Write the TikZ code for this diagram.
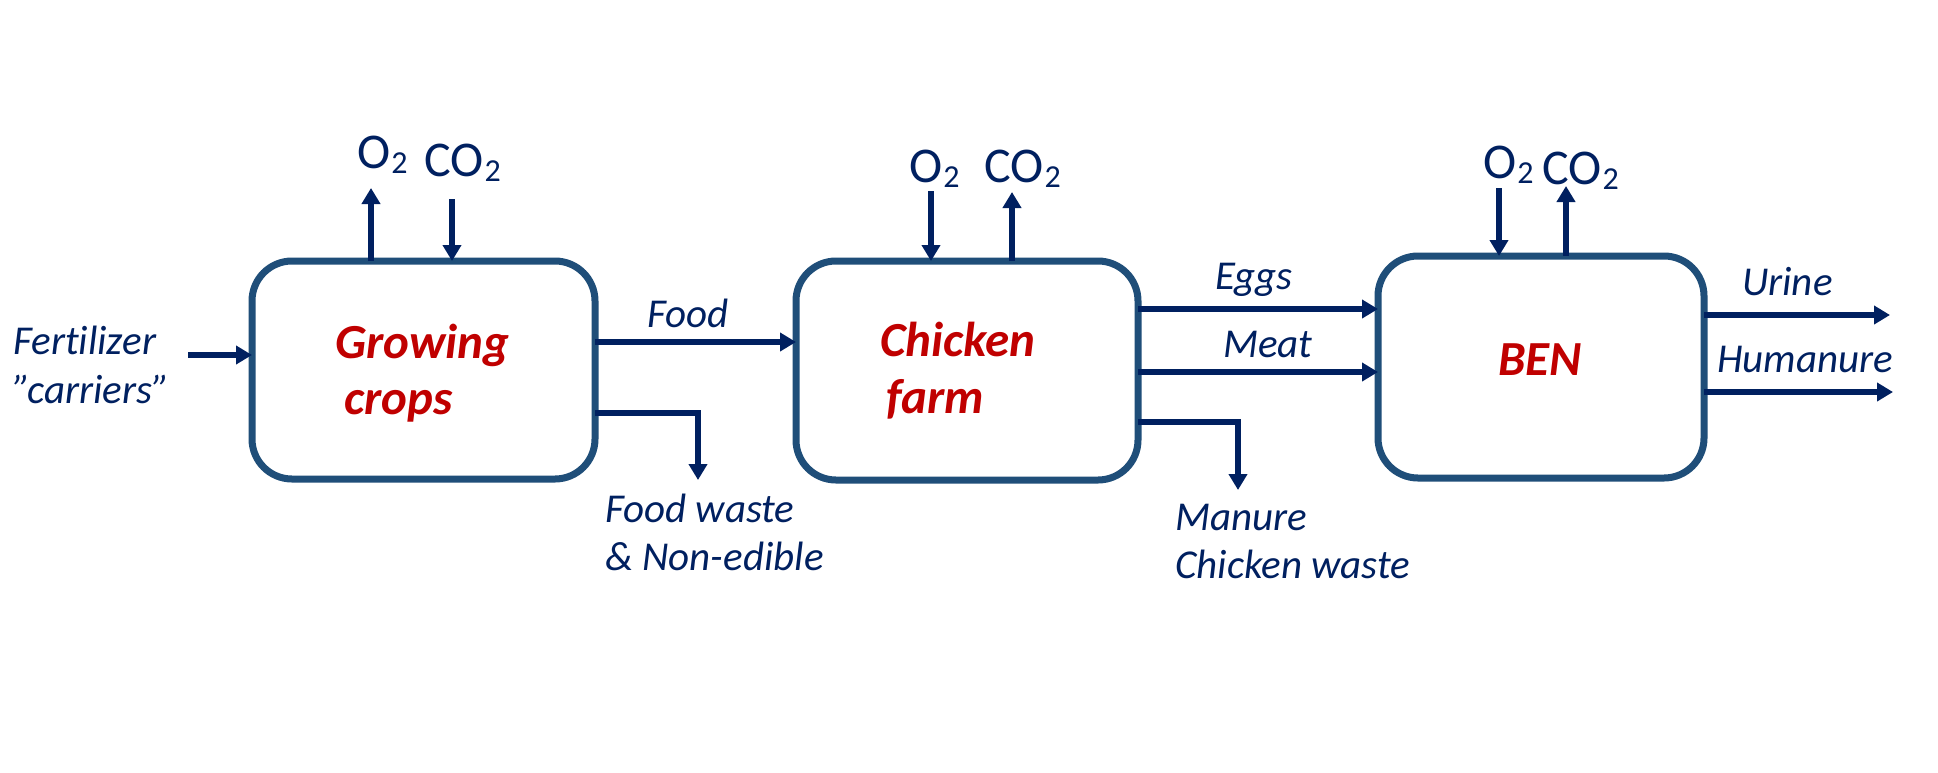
\documentclass[tikz,border=0pt]{standalone}
\usepackage{fontspec}
\setmainfont{Carlito}[Ligatures=NoCommon]
\usetikzlibrary{arrows.meta}
\definecolor{navy}{HTML}{002060}
\definecolor{boxblue}{HTML}{1F4E79}
\definecolor{labred}{HTML}{C00000}
\newcommand\gsub[1]{\kern1pt\raisebox{-5pt}{\fontsize{32}{34}\selectfont #1}}
\begin{document}
\begin{tikzpicture}[x=1pt,y=-1pt,
  proc/.style={draw=boxblue, line width=7pt, rounded corners=40pt, fill=white, inner sep=0pt, outer sep=0pt},
  flow/.style={draw=navy, line width=6pt, -{Triangle[width=18pt,length=16pt]}},
  lbl/.style={text=navy, font=\fontsize{41}{47}\selectfont\itshape, inner sep=0pt, anchor=base west},
  gas/.style={text=navy, font=\fontsize{50}{52}\selectfont, inner sep=0pt, anchor=base west},
  plab/.style={text=labred, font=\fontsize{49}{56}\selectfont\bfseries\itshape, inner sep=0pt, anchor=base west}]
\useasboundingbox[fill=white] (0,0) rectangle (1938,772);

% process boxes
\node[proc, minimum width=343pt, minimum height=218pt] (gc) at (423.5,370) {};
\node[proc, minimum width=342pt, minimum height=219pt] (cf) at (967,370.5) {};
\node[proc, minimum width=326pt, minimum height=222pt] (ben) at (1541,367) {};

% box labels
\node[plab] (gcl1) at (335,358) {Growing};
\node[plab] (gcl2) at (344,414) {crops};
\node[plab] (cfl1) at (880,356) {Chicken};
\node[plab] (cfl2) at (886,413) {farm};
\node[plab] (benl) at (1498,375) {BEN};

% gas labels
\node[gas] (gO2l) at (357,168) {O\gsub{2}};
\node[gas] (gCO2l) at (424,176) {CO\gsub{2}};
\node[gas] (cO2l) at (909,182) {O\gsub{2}};
\node[gas] (cCO2l) at (984,182) {CO\gsub{2}};
\node[gas] (bO2l) at (1483,178) {O\gsub{2}};
\node[gas] (bCO2l) at (1542,184) {CO\gsub{2}};

% gas arrows
\coordinate (gO2) at (371,188);
\coordinate (gCO2) at (452,199);
\coordinate (cO2) at (931,191);
\coordinate (cCO2) at (1012,192);
\coordinate (bO2) at (1499,188);
\coordinate (bCO2) at (1566,186);
\draw[flow] (gO2 |- gc.north) -- (gO2);
\draw[flow] (gCO2) -- (gCO2 |- gc.north);
\draw[flow] (cO2) -- (cO2 |- cf.north);
\draw[flow] (cCO2 |- cf.north) -- (cCO2);
\draw[flow] (bO2) -- (bO2 |- ben.north);
\draw[flow] (bCO2 |- ben.north) -- (bCO2);

% flow labels
\node[lbl] (fert1) at (13,354) {Fertilizer};
\node[lbl] (fert2) at (13,403) {”carriers”};
\node[lbl] (food) at (647,327) {Food};
\node[lbl] (fw1) at (605,522) {Food waste};
\node[lbl] (fw2) at (605,570) {\& Non-edible};
\node[lbl] (eggs) at (1215,289) {Eggs};
\node[lbl] (meat) at (1223,357) {Meat};
\node[lbl] (man1) at (1175,530) {Manure};
\node[lbl] (man2) at (1175,578) {Chicken waste};
\node[lbl] (urine) at (1742,295) {Urine};
\node[lbl] (human) at (1717,372) {Humanure};

% flows
\coordinate (fertS) at (188,355);
\draw[flow] (fertS) -- (fertS -| gc.west);
\draw[flow] ([yshift=28pt]gc.east) -- ([yshift=28pt]gc.east -| cf.west);
\coordinate (fwT) at (698,480);
\draw[flow] ([yshift=-43pt]gc.east) -| (fwT);
\draw[flow] ([yshift=61.5pt]cf.east) -- ([yshift=61.5pt]cf.east -| ben.west);
\draw[flow] ([yshift=-1.5pt]cf.east) -- ([yshift=-1.5pt]cf.east -| ben.west);
\coordinate (mT) at (1238,490);
\draw[flow] ([yshift=-51.5pt]cf.east) -| (mT);
\coordinate (uT) at (1890,315);
\coordinate (hT) at (1893,392);
\draw[flow] (uT -| ben.east) -- (uT);
\draw[flow] (hT -| ben.east) -- (hT);
\end{tikzpicture}
\end{document}
